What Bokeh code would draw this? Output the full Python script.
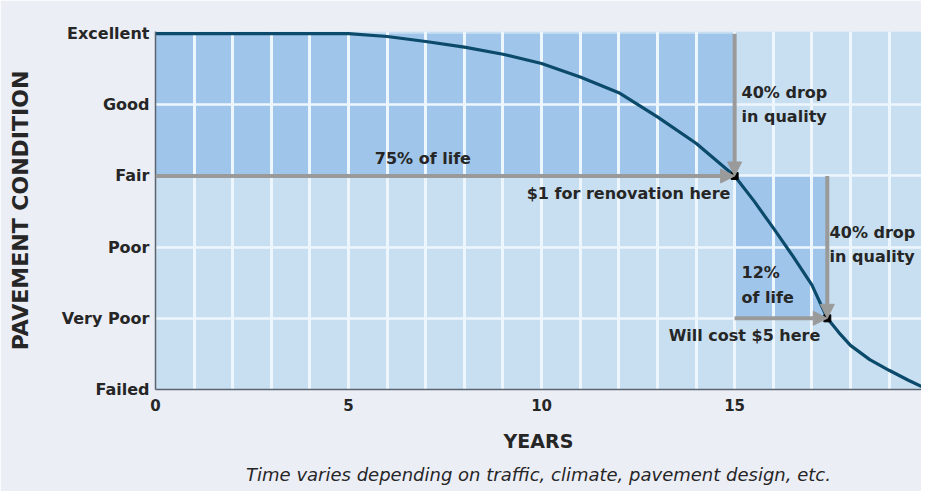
from bokeh.plotting import figure
from bokeh.models import FixedTicker, Label, Arrow, NormalHead, Range1d, Title
from bokeh.embed import file_html
from bokeh.resources import INLINE

# ---- data ----
years = [0, 5, 6, 7, 8, 9, 10, 11, 12, 13, 14, 15, 15.5, 16, 16.5, 17, 17.4, 17.7, 18, 18.5, 19, 19.5, 20]
condition = [5.0, 5.0, 4.96, 4.89, 4.81, 4.71, 4.58, 4.39, 4.17, 3.83, 3.46, 3.0, 2.65, 2.27, 1.88,
             1.47, 1.0, 0.80, 0.62, 0.42, 0.27, 0.13, 0.0]

condition_levels = [0, 1, 2, 3, 4, 5]
condition_labels = ["Failed", "Very Poor", "Poor", "Fair", "Good", "Excellent"]
year_ticks = [0, 5, 10, 15, 20]

# shaded stages of life: (start year, end year, low condition, high condition)
stage_start = [0, 15]
stage_end = [15, 17.4]
stage_low = [3, 1]
stage_high = [5, 3]

# milestones
renov_year, renov_cond = 15, 3
late_year, late_cond = 17.4, 1

BG = "#eceef6"
LIGHT = "#c8dff1"
DARK = "#a0c5ea"
GRIDC = "#eef6fd"
ARROWC = "#9a9a9a"
CURVE = "#0b4a6b"
TXT = "#262626"
FONT = "DejaVu Sans"

p = figure(width=921, height=491, output_backend="svg", toolbar_location=None,
           x_range=Range1d(0, 19.84), y_range=Range1d(0, 5.03),
           min_border_left=155, min_border_right=0, min_border_top=31, min_border_bottom=102)
p.background_fill_color = LIGHT
p.border_fill_color = BG
p.outline_line_color = None

# shaded regions (under the grid)
p.quad(left=stage_start, right=stage_end, bottom=stage_low, top=stage_high,
       fill_color=DARK, line_color=None, level="image")

# grid
p.xgrid.ticker = FixedTicker(ticks=list(range(1, 20)))
p.ygrid.ticker = FixedTicker(ticks=condition_levels[1:5])
p.xgrid.grid_line_color = GRIDC
p.ygrid.grid_line_color = GRIDC
p.xgrid.grid_line_width = 3
p.ygrid.grid_line_width = 2.5
p.xgrid.level = "underlay"
p.ygrid.level = "underlay"

# axes
p.xaxis.ticker = FixedTicker(ticks=year_ticks)
p.yaxis.ticker = FixedTicker(ticks=condition_levels)
p.yaxis.major_label_overrides = {lv: lab for lv, lab in zip(condition_levels, condition_labels)}
for ax in (p.xaxis[0], p.yaxis[0]):
    ax.major_tick_line_color = None
    ax.minor_tick_line_color = None
    ax.major_tick_out = 0
    ax.major_tick_in = 0
    ax.minor_tick_out = 0
    ax.minor_tick_in = 0
    ax.axis_line_color = "#5a6470"
    ax.axis_line_width = 1.5
    ax.major_label_text_font = FONT
    ax.major_label_text_font_style = "bold"
    ax.major_label_text_color = TXT
    ax.axis_label_text_font = FONT
    ax.axis_label_text_font_style = "bold"
    ax.axis_label_text_color = TXT
p.xaxis.major_label_text_font_size = "15px"
p.yaxis.major_label_text_font_size = "16px"
p.xaxis.major_label_standoff = 9
p.yaxis.major_label_standoff = 6

p.xaxis.axis_label = "YEARS"
p.xaxis.axis_label_text_font_size = "19px"
p.xaxis.axis_label_standoff = 16
p.yaxis.axis_label = "PAVEMENT CONDITION"
p.yaxis.axis_label_text_font_size = "22px"
p.yaxis.axis_label_standoff = 26

p.add_layout(Title(text="Time varies depending on traffic, climate, pavement design, etc.",
                   align="center", text_font=FONT, text_font_style="italic",
                   text_font_size="18px", text_color=TXT, standoff=14), "below")

# arrows
head = dict(size=14, fill_color=ARROWC, line_color=ARROWC)
p.add_layout(Arrow(end=NormalHead(**head), x_start=0, y_start=renov_cond, x_end=renov_year, y_end=renov_cond,
                   line_color=ARROWC, line_width=4))
p.add_layout(Arrow(end=NormalHead(**head), x_start=renov_year, y_start=condition_levels[-1], x_end=renov_year,
                   y_end=renov_cond, line_color=ARROWC, line_width=4))
p.add_layout(Arrow(end=NormalHead(**head), x_start=late_year, y_start=renov_cond, x_end=late_year,
                   y_end=late_cond, line_color=ARROWC, line_width=4))
p.add_layout(Arrow(end=NormalHead(**head), x_start=renov_year, y_start=late_cond, x_end=late_year,
                   y_end=late_cond, line_color=ARROWC, line_width=4))

# curve
p.line(years, condition, line_color=CURVE, line_width=3.2)
p.scatter([renov_year, late_year], [renov_cond, late_cond], marker="square", size=7,
          fill_color="black", line_color="black")

def lab(x, y, text, align="left", size="16px"):
    p.add_layout(Label(x=x, y=y, text=text, text_align=align, text_baseline="middle",
                       text_font=FONT, text_font_size=size, text_font_style="bold",
                       text_color=TXT))

lab(5.68, 3.24, "75% of life")
lab(14.89, 2.75, "$1 for renovation here", align="right")
lab(15.18, 4.17, "40% drop")
lab(15.18, 3.83, "in quality")
lab(17.46, 2.2, "40% drop")
lab(17.46, 1.87, "in quality")
lab(15.18, 1.64, "12%")
lab(15.18, 1.29, "of life")
lab(17.22, 0.76, "Will cost $5 here", align="right")

open("out.html", "w").write(file_html(p, INLINE))
